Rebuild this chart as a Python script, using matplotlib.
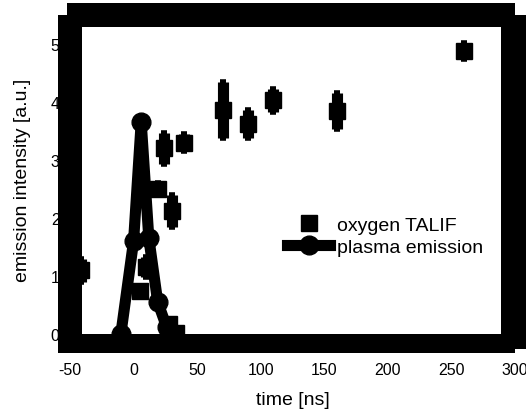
import matplotlib
matplotlib.use("Agg")
import matplotlib.pyplot as plt
from matplotlib.patches import Rectangle

plt.rcParams["font.family"] = ["Liberation Sans", "DejaVu Sans"]
plt.rcParams["axes.unicode_minus"] = False

# oxygen TALIF (time in ns, intensity, error)
talif_t = [-41, 5, 10, 19, 24, 30, 28, 33, 40, 70, 90, 110, 160, 260]
talif_y = [1.1, 0.75, 1.15, 2.5, 3.2, 2.12, 0.18, 0.02, 3.3, 3.86, 3.62, 4.03, 3.84, 4.88]
talif_err = [0.2, 0.05, 0.17, 0.1, 0.27, 0.27, 0.05, 0.03, 0.15, 0.48, 0.24, 0.2, 0.31, 0.14]

# plasma emission
plasma_t = [-10, 0, 6, 12, 19, 26]
plasma_y = [0.0, 1.6, 3.65, 1.65, 0.55, 0.12]

W, H = 526, 410
fig = plt.figure(figsize=(W / 100, H / 100), dpi=100)
ax = fig.add_axes([70 / W, (H - 344) / H, 445 / W, 328 / H])

ax.errorbar(talif_t, talif_y, yerr=talif_err, fmt="none", ecolor="black",
            elinewidth=8, capsize=2.5, capthick=4)
ax.plot(talif_t, talif_y, "s", color="black", markersize=11, label="oxygen TALIF")
ax.plot(plasma_t, plasma_y, "-o", color="black", linewidth=8, markersize=13.5,
        label="plasma emission")

ax.set_xlim(-50, 300)
ax.set_ylim(-0.155, 5.5)
ax.set_xticks([-50, 0, 50, 100, 150, 200, 250, 300])
ax.set_yticks([0, 1, 2, 3, 4, 5])
ax.tick_params(length=0, labelsize=11.5)
ax.tick_params(axis="x", pad=14)
ax.tick_params(axis="y", pad=7.5)
for s in ax.spines.values():
    s.set_visible(False)

ax.set_xlabel("time [ns]", fontsize=14, labelpad=10)
ax.set_ylabel("emission intensity [a.u.]", fontsize=14, labelpad=14)

ax.legend(loc="center left", bbox_to_anchor=(0.488, 0.326), frameon=False,
          fontsize=14, borderpad=0, borderaxespad=0, handlelength=2.2,
          handletextpad=0.35, labelspacing=0.2, numpoints=1)

# thick offset frame drawn over everything
def bar(x0, y0, x1, y1):
    fig.add_artist(Rectangle((x0 / W, (H - y1) / H), (x1 - x0) / W, (y1 - y0) / H,
                             transform=fig.transFigure, facecolor="black",
                             edgecolor="none", zorder=10))

bar(67, 4, 515, 28)
bar(58, 16, 82, 353)
bar(58, 335, 515, 354)
bar(501, 16, 526, 350)

fig.savefig("out.png", dpi=100)
